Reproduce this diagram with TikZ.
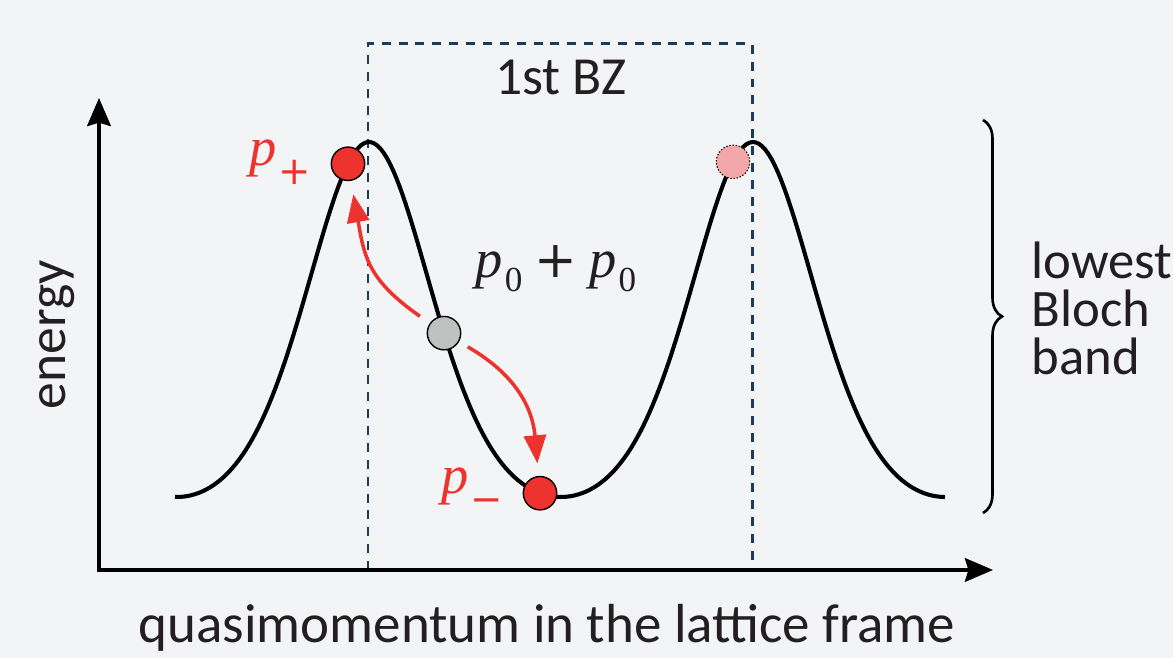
\documentclass[tikz,border=0pt]{standalone}
\usepackage{fontspec}
\setmainfont{Carlito}
\newfontfamily\momfont{Liberation Serif}
\newfontfamily\signfont{DejaVu Sans}
\usepackage{tikz}
\usetikzlibrary{arrows.meta,decorations.pathreplacing,calc}
\definecolor{bgcol}{HTML}{F3F4F6}
\definecolor{ink}{HTML}{231F20}
\definecolor{bznavy}{HTML}{1B3D5D}
\definecolor{hopred}{HTML}{EE322E}
\definecolor{dotgray}{HTML}{BFC1C0}
\definecolor{dotpink}{HTML}{F4A7A9}
\tikzset{every picture/.style={line width=0.75pt}}
% subscripts of the momentum labels
\newcommand{\subzero}{\kern1pt\raisebox{-8pt}{\upshape\fontsize{20}{20}\selectfont 0}}
\newcommand{\subsign}[1]{\kern1pt\raisebox{-11pt}{\signfont\fontsize{22}{22}\selectfont #1}}
\newcommand{\bigplus}{\hspace{7pt}{\signfont\fontsize{29}{29}\selectfont +}\hspace{7pt}}

\begin{document}
\begin{tikzpicture}[x=0.02cm, y=0.02cm,
    declare function={band(\t)=161+355*(exp(0.9*cos(0.9375*(\t-369)))-exp(-0.9))/(exp(0.9)-exp(-0.9));},
    every node/.style={text=ink, font=\fontsize{30.5}{27.3}\selectfont},
    axis/.style={draw=black, line width=2pt, {Stealth[length=16pt,width=13.5pt,inset=2pt]}-{Stealth[length=16pt,width=13.5pt,inset=2pt]}},
    zone/.style={draw=bznavy, line width=1.7pt, dash pattern=on 5.1pt off 4.5pt},
    bandline/.style={draw=black, line width=2.3pt},
    dot/.style={circle, draw=black, line width=0.8pt, minimum size=0.668cm, inner sep=0pt},
    hop/.style={draw=hopred, line width=2pt, -{Triangle[length=16pt,width=12.5pt]}},
    mathlbl/.style={font=\momfont\fontsize{31}{36}\selectfont\itshape},
    bracket/.style={draw=black, line width=1.5pt, decorate, decoration={brace, amplitude=0.38cm}}]
    % 背景
    \path[use as bounding box, fill=bgcol] (0,0) rectangle (1173,658);
    % 布里渊区
    \coordinate (bzA) at (368,88);
    \coordinate (bzB) at (752,614);
    \draw[zone] (bzA) |- (bzB) -- (bzB |- bzA);
    \node (bzlabel) at (561,581) {1st BZ};
    % 坐标轴
    \coordinate (origin) at (99,88);
    \coordinate (ytip) at (99,560);
    \coordinate (xtip) at (993,88);
    \draw[axis] (ytip) -- (origin) -- (xtip);
    \node[rotate=90] (ylabel) at (57,323) {energy};
    \node[font=\fontsize{31.3}{36}\selectfont] (xlabel) at (547,30) {quasimomentum in the lattice frame};
    % 能带
    \draw[bandline, domain=175:945, samples=241] plot (\x, {band(\x)});
    % 动量态
    \node[dot, fill=hopred] (pplus) at (348,{band(348)}) {};
    \node[dot, fill=dotgray] (pzero) at (444,{band(444)}) {};
    \node[dot, fill=hopred] (pminus) at (540,{band(540)}) {};
    \node[dot, fill=dotpink, densely dotted, line width=0.6pt] (pimage) at (733,{band(733)}) {};
    \node[mathlbl, text=hopred] (lplus) at (280,496) {p\subsign{+}};
    \node[mathlbl, text=hopred] (lminus) at (472,168) {p\subsign{−}};
    \node[mathlbl] (lzero) at (556,389) {p\subzero\bigplus p\subzero};
    % 散射
    \draw[hop, shorten <=0.24cm, shorten >=0.27cm] (pzero) to[out=145, in=-80, looseness=1.2] (pplus);
    \draw[hop, shorten <=0.2cm, shorten >=0.25cm] (pzero) to[out=-30, in=95, looseness=1.1] (pminus);
    % 最低能带
    \coordinate (bandtop) at (983,538);
    \coordinate (bandbot) at (983,145);
    \draw[bracket] (bandtop) -- (bandbot);
    \node[anchor=west, align=left, font=\fontsize{30}{27.3}\selectfont] (bandlabel) at (1025,350) {lowest\\Bloch\\band};
\end{tikzpicture}
\end{document}
